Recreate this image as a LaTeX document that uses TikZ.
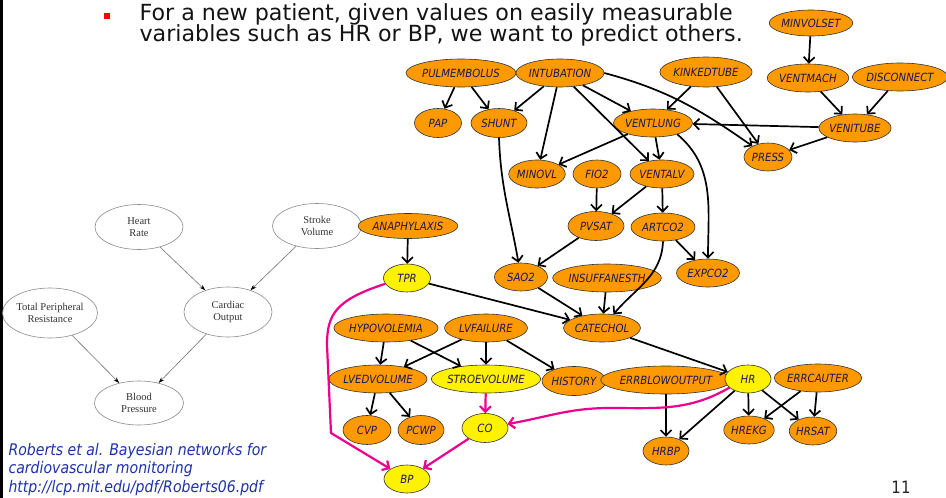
\documentclass[tikz,border=0pt]{standalone}
\usepackage{fontspec}
\setmainfont{DejaVu Sans}
\newfontfamily\slidefont[FakeStretch=0.88]{DejaVu Sans}
\newfontfamily\headfont{DejaVu Sans}
\newfontfamily\netfont[FakeStretch=0.9]{DejaVu Sans}
\newfontfamily\paperfont{Liberation Serif}
\usetikzlibrary{shapes.geometric,arrows.meta}

\definecolor{alarmorange}{RGB}{255,153,0}
\definecolor{labelnavy}{RGB}{28,20,90}
\definecolor{citeblue}{RGB}{30,50,170}
\definecolor{slidetext}{RGB}{20,20,20}

\tikzset{
  var/.style={ellipse, draw=black!80, line width=0.6pt, fill=alarmorange,
    inner sep=0pt, text=labelnavy, font=\netfont\itshape\fontsize{11.3}{11.3}\selectfont},
  obs/.style={var, fill=yellow},
  vsize/.style 2 args={minimum width=#1pt, minimum height=#2pt},
  edge/.style={draw=black, line width=1.7pt, -{Straight Barb[length=5.5pt,width=11pt]}},
  keyedge/.style={draw=magenta, line width=2.2pt, -{Straight Barb[length=5.5pt,width=11pt]}},
  paper/.style={ellipse, draw=black!45, line width=0.6pt, inner sep=0pt,
    align=center, text=black!80, font=\paperfont\fontsize{10.5}{12.5}\selectfont},
  paperedge/.style={draw=black!55, line width=0.6pt, -{Stealth[length=6pt,width=4pt,black]}},
  cite/.style={anchor=base west, text=citeblue, font=\slidefont\itshape\fontsize{16}{16}\selectfont},
  headline/.style={anchor=base west, text=slidetext, font=\headfont\fontsize{22.2}{22.2}\selectfont}
}

\begin{document}
\begin{tikzpicture}[x=1pt,y=-1pt]
\useasboundingbox (0,0) rectangle (946,498);
\fill[white] (0,0) rectangle (946,498);
% slide edge
\fill[black] (0,0) rectangle (2.5,498);

% header bullet and text
\fill[red] (104,13) rectangle (110,19);
\node[headline] (hdr1) at (136,20) {For a new patient, given values on easily measurable};
\node[headline] (hdr2) at (136,41) {variables such as HR or BP, we want to predict others.};

% small cardiovascular network
\node[paper, vsize={88}{45}] (hrate) at (139,227) {Heart\\Rate};
\node[paper, vsize={89}{45}] (svol) at (317,226) {Stroke\\Volume};
\node[paper, vsize={88}{50}] (tpres) at (50,313) {Total Peripheral\\Resistance};
\node[paper, vsize={88}{50}] (cout) at (228,312) {Cardiac\\Output};
\node[paper, vsize={89}{44}] (bpress) at (139,403) {Blood\\Pressure};
\draw[paperedge] (hrate) -- (cout);
\draw[paperedge] (svol) -- (cout);
\draw[paperedge] (tpres) -- (bpress);
\draw[paperedge] (cout) -- (bpress);

% citation
\node[cite] (cite1) at (5,455) {Roberts et al. Bayesian networks for};
\node[cite] (cite2) at (5,473.5) {cardiovascular monitoring};
\node[cite] (cite3) at (5,492) {http://lcp.mit.edu/pdf/Roberts06.pdf};

% page number
\node[anchor=base, text=black!85, font=\slidefont\fontsize{17}{17}\selectfont] (pageno) at (901,493) {11};

% ALARM network nodes
\node[var, vsize={82}{26}] (minvol) at (811,23) {MINVOLSET};
\node[var, vsize={94}{28}] (pulm) at (461,73) {PULMEMBOLUS};
\node[var, vsize={84}{28}] (intub) at (560,73) {INTUBATION};
\node[var, vsize={84}{30}] (kinked) at (706,72) {KINKEDTUBE};
\node[var, vsize={69}{28}] (ventmach) at (808,78) {VENTMACH};
\node[var, vsize={90}{28}] (disc) at (900,77) {DISCONNECT};
\node[var, vsize={47}{29}] (pap) at (438,123) {PAP};
\node[var, vsize={56}{29}] (shunt) at (499,123) {SHUNT};
\node[var, vsize={64}{28}] (ventlung) at (653,123) {VENTLUNG};
\node[var, vsize={64}{28}] (venitube) at (855,128) {VENITUBE};
\node[var, vsize={48}{28}] (press) at (768,157) {PRESS};
\node[var, vsize={55}{28}] (minovl) at (537,174) {MINOVL};
\node[var, vsize={48}{28}] (fio2) at (597,174) {FIO2};
\node[var, vsize={64}{28}] (ventalv) at (662,174) {VENTALV};
\node[var, vsize={56}{29}] (pvsat) at (596,226) {PVSAT};
\node[var, vsize={64}{28}] (artco2) at (663,227) {ARTCO2};
\node[var, vsize={84}{25}] (anaph) at (408,226) {ANAPHYLAXIS};
\node[var, vsize={53}{28}] (sao2) at (521,277) {SAO2};
\node[var, vsize={96}{28}] (insuff) at (607,278) {INSUFFANESTH};
\node[var, vsize={63}{28}] (expco2) at (708,273) {EXPCO2};
\node[obs, vsize={47}{28}] (tpr) at (407,278) {TPR};
\node[var, vsize={65}{28}] (catechol) at (602,328) {CATECHOL};
\node[var, vsize={84}{28}] (hypovol) at (386,328) {HYPOVOLEMIA};
\node[var, vsize={83}{28}] (lvfail) at (486,328) {LVFAILURE};
\node[var, vsize={96}{28}] (lvedvol) at (378,379) {LVEDVOLUME};
\node[obs, vsize={95}{28}] (strovol) at (486,379) {STROEVOLUME};
\node[var, vsize={64}{29}] (history) at (574,381) {HISTORY};
\node[var, vsize={109}{28}] (errblow) at (666,380) {ERRBLOWOUTPUT};
\node[obs, vsize={46}{28}] (hr) at (748,379) {HR};
\node[var, vsize={72}{28}] (errcaut) at (818,378) {ERRCAUTER};
\node[var, vsize={48}{29}] (cvp) at (367,430) {CVP};
\node[var, vsize={46}{29}] (pcwp) at (421,430) {PCWP};
\node[obs, vsize={46}{29}] (co) at (485,428) {CO};
\node[var, vsize={46}{28}] (hrekg) at (749,430) {HREKG};
\node[var, vsize={46}{28}] (hrsat) at (813,431) {HRSAT};
\node[var, vsize={46}{28}] (hrbp) at (666,451) {HRBP};
\node[obs, vsize={46}{28}] (bp) at (407,479) {BP};

% ALARM network edges
\draw[edge] (minvol) -- (ventmach);
\draw[edge] (ventmach) -- (venitube);
\draw[edge] (disc) -- (venitube);
\draw[edge] (venitube) -- (ventlung);
\draw[edge] (venitube) -- (press);
\draw[edge] (kinked) -- (ventlung);
\draw[edge] (kinked) -- (press);
\draw[edge] (intub.east) to[out=-15,in=145] (press);
\draw[edge] (intub) -- (shunt);
\draw[edge] (intub) -- (minovl);
\draw[edge] (intub) -- (ventalv);
\draw[edge] (intub) -- (ventlung);
\draw[edge] (pulm) -- (pap);
\draw[edge] (pulm) -- (shunt);
\draw[edge] (ventlung) -- (minovl);
\draw[edge] (ventlung) -- (ventalv);
\draw[edge] (ventlung.-25) to[out=-40,in=90] (expco2.north);
\draw[edge] (fio2) -- (pvsat);
\draw[edge] (ventalv) -- (pvsat);
\draw[edge] (ventalv) -- (artco2);
\draw[edge] (artco2) -- (expco2);
\draw[edge] (artco2.south) to[out=-92,in=50] (catechol);
\draw[edge] (pvsat) -- (sao2);
\draw[edge] (shunt.south) to[out=-88,in=100] (sao2);
\draw[edge] (sao2) -- (catechol);
\draw[edge] (insuff) -- (catechol);
\draw[edge] (tpr) -- (catechol);
\draw[edge] (anaph) -- (tpr);
\draw[edge] (catechol) -- (hr);
\draw[edge] (hypovol) -- (lvedvol);
\draw[edge] (hypovol) -- (strovol);
\draw[edge] (lvfail) -- (lvedvol);
\draw[edge] (lvfail) -- (strovol);
\draw[edge] (lvfail) -- (history);
\draw[edge] (lvedvol) -- (cvp);
\draw[edge] (lvedvol) -- (pcwp);
\draw[edge] (errblow) -- (hrbp);
\draw[edge] (hr) -- (hrbp);
\draw[edge] (hr) -- (hrekg);
\draw[edge] (hr) -- (hrsat);
\draw[edge] (errcaut) -- (hrekg);
\draw[edge] (errcaut) -- (hrsat);

% paths into blood pressure
\draw[keyedge] (strovol) -- (co);
\draw[keyedge] (co) -- (bp);
\draw[keyedge] (hr.205) to[out=-150,in=0] (610,408) to[out=180,in=10] (co);
\draw[keyedge] (tpr.195) .. controls (335,300) and (327,315) .. (327,345) -- (331,433) -- (bp);
\end{tikzpicture}
\end{document}
